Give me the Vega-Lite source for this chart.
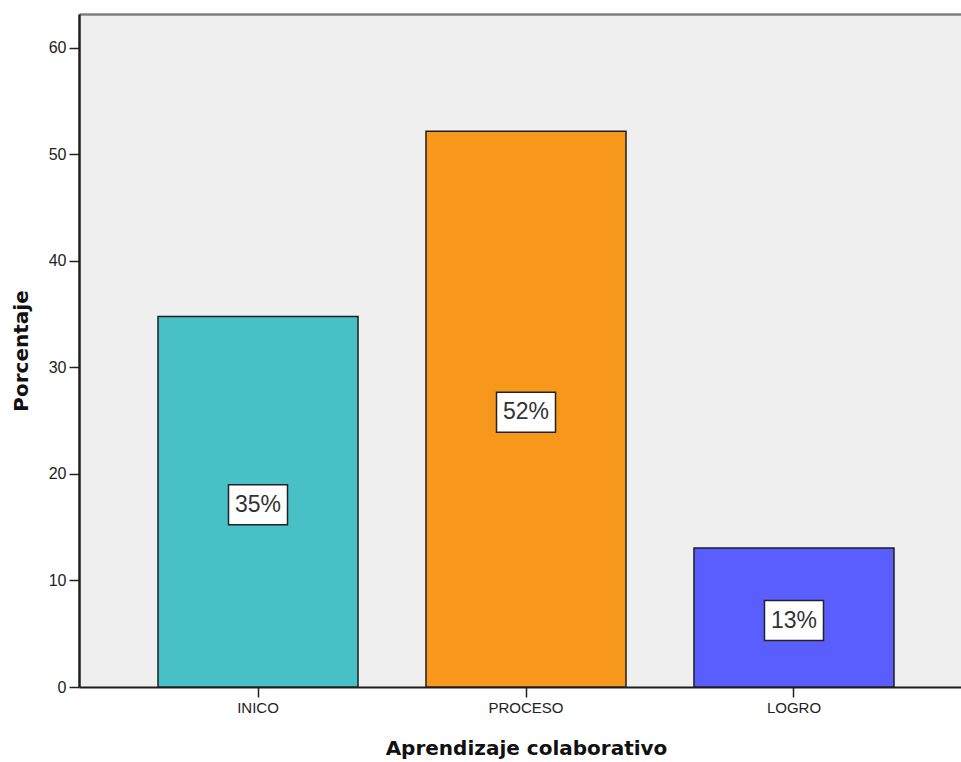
{
  "$schema": "https://vega.github.io/schema/vega-lite/v6.json",
  "width": 882,
  "height": 673,
  "autosize": {"type": "none"},
  "padding": {"left": 79, "top": 14, "right": 0, "bottom": 75},
  "background": "white",
  "config": {
    "view": {"fill": "#efefef", "stroke": null},
    "font": "Liberation Sans"
  },
  "data": {
    "values": [
      {"nivel": "INICO", "porcentaje": 34.78},
      {"nivel": "PROCESO", "porcentaje": 52.17},
      {"nivel": "LOGRO", "porcentaje": 13.04}
    ]
  },
  "transform": [
    {"calculate": "datum.porcentaje / 2", "as": "mitad"},
    {"calculate": "format(datum.porcentaje, '.0f') + '%'", "as": "etiqueta"}
  ],
  "resolve": {"axis": {"x": "independent"}},
  "layer": [
    {
      "mark": {"type": "bar", "stroke": "#1e1e1e", "strokeWidth": 1.5},
      "encoding": {
        "x": {
          "field": "nivel",
          "type": "nominal",
          "sort": null,
          "scale": {"range": [0, 894], "paddingInner": 0.2537, "paddingOuter": 0.2948},
          "axis": {
            "title": "Aprendizaje colaborativo",
            "titleFont": "DejaVu Sans",
            "titleFontSize": 20,
            "titleFontWeight": "bold",
            "titleColor": "#111",
            "titlePadding": 23,
            "titleX": 447,
            "labelAngle": 0,
            "labelFontSize": 15,
            "labelColor": "#222",
            "labelPadding": 3,
            "tickSize": 10,
            "tickColor": "#222",
            "tickWidth": 1.5,
            "domainColor": "#1e1e1e",
            "domainWidth": 2
          }
        },
        "y": {
          "field": "porcentaje",
          "type": "quantitative",
          "scale": {"domain": [0, 63.19], "nice": false, "zero": true},
          "axis": {
            "title": "Porcentaje",
            "values": [0, 10, 20, 30, 40, 50, 60],
            "grid": false,
            "titleFont": "DejaVu Sans",
            "titleFontSize": 20,
            "titleFontWeight": "bold",
            "titleColor": "#111",
            "titlePadding": 17,
            "labelFontSize": 16,
            "labelColor": "#222",
            "labelPadding": 3,
            "tickSize": 10,
            "tickColor": "#222",
            "tickWidth": 1.5,
            "domainColor": "#1e1e1e",
            "domainWidth": 2.5
          }
        },
        "color": {
          "field": "nivel",
          "type": "nominal",
          "scale": {
            "domain": ["INICO", "PROCESO", "LOGRO"],
            "range": ["#48c1c6", "#f7981d", "#5b5eff"]
          },
          "legend": null
        }
      }
    },
    {
      "mark": {
        "type": "point",
        "shape": "M-1,-0.678L1,-0.678L1,0.678L-1,0.678Z",
        "size": 3481,
        "filled": true,
        "fill": "white",
        "stroke": "#222",
        "strokeWidth": 1.5,
        "opacity": 1,
        "yOffset": 3
      },
      "encoding": {
        "x": {"field": "nivel", "type": "nominal", "sort": null, "axis": null},
        "y": {"field": "mitad", "type": "quantitative"}
      }
    },
    {
      "mark": {
        "type": "text",
        "fontSize": 23,
        "color": "#333",
        "baseline": "middle",
        "align": "center",
        "yOffset": 3
      },
      "encoding": {
        "x": {
          "field": "nivel",
          "type": "nominal",
          "sort": null,
          "axis": {
            "orient": "top",
            "title": null,
            "labels": false,
            "ticks": false,
            "domainColor": "#7f7f7f",
            "domainWidth": 2.5
          }
        },
        "y": {"field": "mitad", "type": "quantitative"},
        "text": {"field": "etiqueta", "type": "nominal"}
      }
    }
  ]
}
